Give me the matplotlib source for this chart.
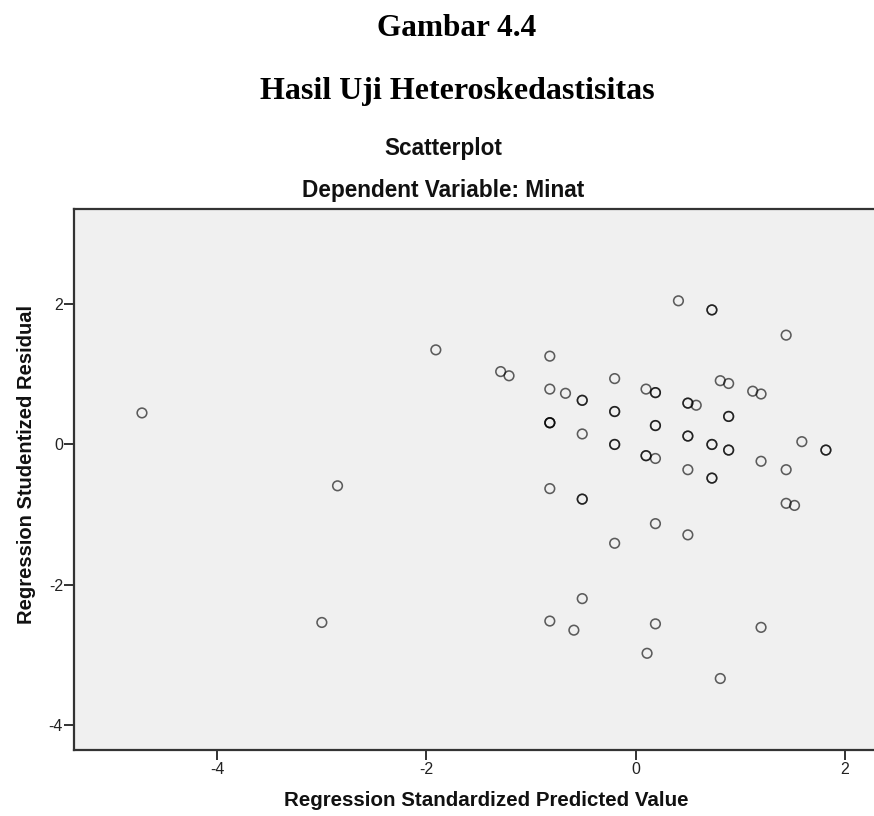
import matplotlib
matplotlib.use("Agg")
import matplotlib.pyplot as plt

# Data: regression standardized predicted value (x) vs studentized residual (y)
pred = [-4.72, -3.00, -2.85, -1.91, -1.29, -1.21,
        -0.82, -0.82, -0.82, -0.82, -0.82, -0.82, -0.82,
        -0.67, -0.59,
        -0.51, -0.51, -0.51, -0.51, -0.51, -0.51,
        -0.20, -0.20, -0.20, -0.20, -0.20, -0.20,
        0.10, 0.10, 0.10, 0.11,
        0.19, 0.19, 0.19, 0.19, 0.19, 0.19, 0.19,
        0.41,
        0.50, 0.50, 0.50, 0.50, 0.50, 0.50, 0.58,
        0.73, 0.73, 0.73, 0.73, 0.73, 0.73,
        0.81, 0.81, 0.89, 0.89, 0.89, 0.89, 0.89,
        1.12, 1.20, 1.20, 1.20,
        1.44, 1.44, 1.44, 1.52, 1.59, 1.82, 1.82]
resid = [0.45, -2.54, -0.59, 1.35, 1.04, 0.98,
         1.26, 0.79, 0.31, 0.31, 0.31, -0.63, -2.52,
         0.73, -2.65,
         0.63, 0.63, 0.15, -0.78, -0.78, -2.20,
         0.94, 0.47, 0.47, 0.00, 0.00, -1.41,
         0.79, -0.16, -0.16, -2.98,
         0.74, 0.74, 0.27, 0.27, -0.20, -1.13, -2.56,
         2.05,
         0.59, 0.59, 0.12, 0.12, -0.36, -1.29, 0.56,
         1.92, 1.92, 0.00, 0.00, -0.48, -0.48,
         0.91, -3.34, 0.87, 0.40, 0.40, -0.08, -0.08,
         0.76, 0.72, -0.24, -2.61,
         1.56, -0.36, -0.84, -0.87, 0.04, -0.08, -0.08]

xticks = [-4, -2, 0, 2]
yticks = [-4, -2, 0, 2]

W, H = 874, 816
fig = plt.figure(figsize=(W / 100, H / 100), dpi=100)
fig.patch.set_facecolor("white")

left, right, top, bottom = 74, 874, 209, 750
ax = fig.add_axes([left / W, 1 - bottom / H, (right - left) / W, (bottom - top) / H])
ax.set_facecolor("#F0F0F0")

ax.scatter(pred, resid, s=48, facecolors="none", edgecolors=(0, 0, 0, 0.62),
           linewidths=1.15, zorder=3)

ax.set_xlim(-5.37, 2.28)
ax.set_ylim(-4.36, 3.36)
ax.set_xticks(xticks)
ax.set_yticks(yticks)
ax.set_xticklabels([str(t) for t in xticks], family="Liberation Sans", fontsize=11.5)
ax.set_yticklabels([str(t) for t in yticks], family="Liberation Sans", fontsize=11.5)
ax.tick_params(axis="both", direction="out", length=7, width=1.3, color="#222222",
               labelcolor="#222222")
ax.tick_params(axis="y", pad=1)
ax.tick_params(axis="x", pad=1.5)

for s in ["left", "top", "bottom"]:
    ax.spines[s].set_linewidth(1.6)
    ax.spines[s].set_color("#333333")
ax.spines["right"].set_visible(False)

# Titles
fig.text(457 / W, 1 - 36 / H, "Gambar 4.4", ha="center", va="baseline",
         family="Liberation Serif", fontweight="bold", fontsize=22.5)
fig.text(457 / W, 1 - 99 / H, "Hasil Uji Heteroskedastisitas", ha="center", va="baseline",
         family="Liberation Serif", fontweight="bold", fontsize=23)
fig.text(443.5 / W, 1 - 155 / H, "Scatterplot", ha="center", va="baseline",
         family="Liberation Sans", fontweight="bold", fontsize=16.3, color="#111111")
fig.text(443.5 / W, 1 - 197.5 / H, "Dependent Variable: Minat", ha="center", va="baseline",
         family="Liberation Sans", fontweight="bold", fontsize=16.3, color="#111111")

# Axis labels
fig.text(27 / W, 1 - 464 / H, "Regression Studentized Residual", rotation=90,
         ha="center", va="center", family="Liberation Sans", fontweight="bold",
         fontsize=14.5, color="#111111")
fig.text(486 / W, 1 - 800 / H, "Regression Standardized Predicted Value",
         ha="center", va="center", family="Liberation Sans", fontweight="bold",
         fontsize=14.8, color="#111111")

fig.savefig("out.png", dpi=100)
